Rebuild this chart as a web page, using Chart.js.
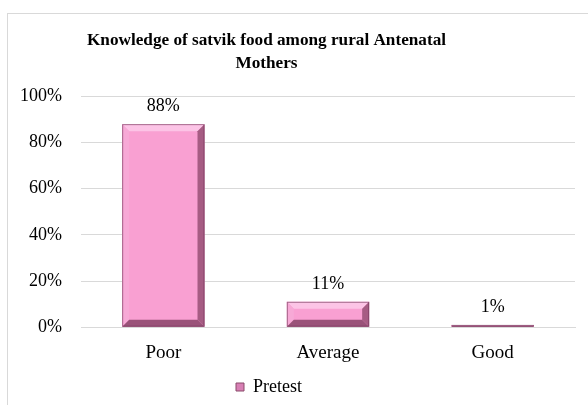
<!DOCTYPE html>
<html><head><meta charset="utf-8">
<script src="https://cdn.jsdelivr.net/npm/chart.js@4"></script>
<style>
html,body{margin:0;padding:0;background:#fff;overflow:hidden;}
#frame{position:absolute;left:7px;top:13px;width:640px;height:460px;border:1px solid #d9d9d9;}
#c{position:absolute;left:0;top:0;}
</style></head><body>
<div id="frame"></div>
<canvas id="c" width="588" height="405"></canvas>
<script>
const categories = ["Poor", "Average", "Good"];
const pretest = [88, 11, 1];
const yTicks = [0, 20, 40, 60, 80, 100];
const seriesName = "Pretest";
const titleLines = ["Knowledge of satvik food among rural Antenatal", "Mothers"];

const FONT = "'Liberation Serif', 'Times New Roman', serif";

const bevel = {
  id: 'bevel',
  afterDatasetsDraw(chart) {
    const ctx = chart.ctx;
    chart.getDatasetMeta(0).data.forEach((bar) => {
      const p = bar.getProps(['x','y','base','width'], true);
      const l = p.x - p.width/2, r = p.x + p.width/2, t = p.y, b = p.base;
      const h = b - t;
      const s = Math.min(7, h/2);
      ctx.save();
      const poly = (pts, col) => {ctx.beginPath(); ctx.moveTo(pts[0][0],pts[0][1]); for (let i=1;i<pts.length;i++) ctx.lineTo(pts[i][0],pts[i][1]); ctx.closePath(); ctx.fillStyle=col; ctx.fill();};
      poly([[l,t],[r,t],[r-s,t+s],[l+s,t+s]], '#fcc4e6');
      poly([[l,t],[l+s,t+s],[l+s,b-s],[l,b]], '#f7a9d6');
      poly([[r,t],[r,b],[r-s,b-s],[r-s,t+s]], '#a65c83');
      poly([[l,b],[r,b],[r-s,b-s],[l+s,b-s]], '#9a5279');
      ctx.strokeStyle = 'rgba(110,50,85,0.6)';
      ctx.lineWidth = 1;
      ctx.strokeRect(l+0.5, t+0.5, p.width-1, h-1 > 0 ? h-1 : 0.5);
      ctx.restore();
    });
  }
};

const valueLabels = {
  id: 'valueLabels',
  afterDatasetsDraw(chart) {
    const ctx = chart.ctx;
    const ds = chart.data.datasets[0];
    ctx.save();
    ctx.font = "18px " + FONT;
    ctx.fillStyle = '#000';
    ctx.textAlign = 'center';
    ctx.textBaseline = 'middle';
    chart.getDatasetMeta(0).data.forEach((bar, i) => {
      ctx.fillText(ds.data[i] + '%', bar.x, bar.y - 18);
    });
    ctx.restore();
  }
};

const shiftBlocks = {
  id: 'shiftBlocks',
  afterLayout(chart) {
    if (chart.titleBlock) { chart.titleBlock.right -= 42; }
    if (chart.legend) { chart.legend.right -= 37; }
  }
};

new Chart(document.getElementById('c'), {
  type: 'bar',
  data: {
    labels: categories,
    datasets: [{
      label: seriesName,
      data: pretest,
      backgroundColor: '#f9a0d2',
      borderWidth: 0,
      barPercentage: 0.5,
      categoryPercentage: 1.0
    }]
  },
  options: {
    responsive: false,
    animation: false,
    layout: { padding: { left: 0, right: 13, top: 0, bottom: -1 } },
    plugins: {
      title: {
        display: true,
        text: titleLines,
        color: '#000',
        font: { family: FONT, size: 17.2, weight: 'bold', lineHeight: 1.35 },
        padding: { top: 29, bottom: 21 }
      },
      legend: {
        position: 'bottom',
        labels: {
          color: '#000',
          font: { family: FONT, size: 18 },
          boxWidth: 8, boxHeight: 8,
          padding: 0,
          generateLabels(chart) {
            return [{ text: seriesName, fillStyle: '#d77fb4', strokeStyle: '#8a4a6a', lineWidth: 1, datasetIndex: 0 }];
          }
        }
      },
      tooltip: { enabled: false }
    },
    scales: {
      x: {
        grid: { display: false, drawTicks: false },
        border: { display: true, color: '#d9d9d9' },
        ticks: { color: '#000', font: { family: FONT, size: 19 }, padding: 14 }
      },
      y: {
        min: 0, max: 100,
        afterBuildTicks(scale) { scale.ticks = yTicks.map(v => ({ value: v })); },
        afterFit(scale) { scale.width = 81; },
        grid: { color: '#d9d9d9', drawTicks: false },
        border: { display: false },
        ticks: { color: '#000', font: { family: FONT, size: 18 }, padding: 19, callback: v => v + '%' }
      }
    }
  },
  plugins: [bevel, valueLabels, shiftBlocks]
});
</script>
</body></html>
